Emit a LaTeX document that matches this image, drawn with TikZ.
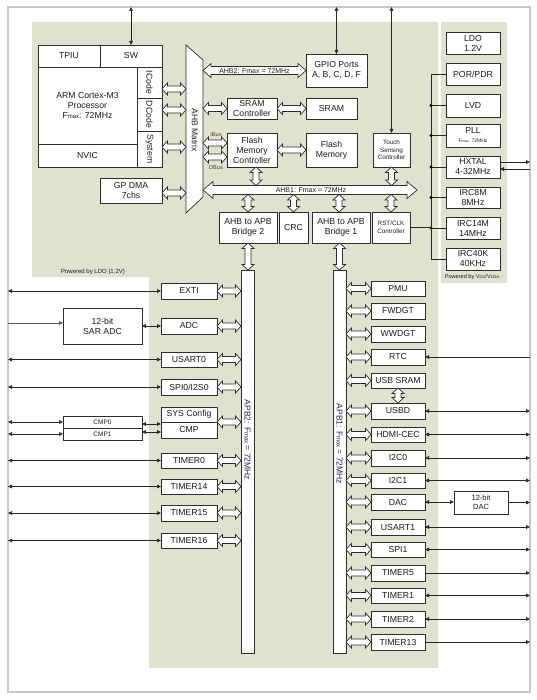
\documentclass[tikz,border=0pt]{standalone}
\usepackage{fontspec}
\setmainfont{Liberation Sans}
\usetikzlibrary{arrows.meta,calc}
\definecolor{bgg}{RGB}{222,226,206}
\definecolor{txt}{RGB}{30,28,24}
\definecolor{apbtxt}{RGB}{30,40,80}
\definecolor{bord}{RGB}{45,45,45}
\definecolor{busc}{RGB}{90,60,30}
\newcommand\fs[2]{\fontsize{#1}{#2}\selectfont}
\newcommand\bx[7][]{\node[box,minimum width={#5-#3},minimum height={#6-#4},#1] (#2) at ({(#3+#5)/2},{(#4+#6)/2}) {#7};}
\newcommand\HAg[6]{\draw[blk] let \p1=(#4), \p2=(#5), \p3=(#6) in
 (\x1,\y3) -- (\x1+#3pt,\y3+#2pt) -- (\x1+#3pt,\y3+#1pt) -- (\x2-#3pt,\y3+#1pt) -- (\x2-#3pt,\y3+#2pt) -- (\x2,\y3) -- (\x2-#3pt,\y3-#2pt) -- (\x2-#3pt,\y3-#1pt) -- (\x1+#3pt,\y3-#1pt) -- (\x1+#3pt,\y3-#2pt) -- cycle;}
\newcommand\HA[3]{\HAg{3}{6}{5.5}{#1}{#2}{#3}}
\newcommand\VAg[6]{\draw[blk] let \p1=(#4), \p2=(#5), \p3=(#6) in
 (\x1,\y2) -- (\x1+#2pt,\y2-#3pt) -- (\x1+#1pt,\y2-#3pt) -- (\x1+#1pt,\y3+#3pt) -- (\x1+#2pt,\y3+#3pt) -- (\x1,\y3) -- (\x1-#2pt,\y3+#3pt) -- (\x1-#1pt,\y3+#3pt) -- (\x1-#1pt,\y2-#3pt) -- (\x1-#2pt,\y2-#3pt) -- cycle;}
\newcommand\VA[3]{\VAg{3}{6}{5.5}{#1}{#2}{#3}}
\tikzset{
 box/.style={draw=bord,fill=white,line width=0.8pt,inner sep=0pt,outer sep=0pt,align=center,text=txt,font=\fs{8.7}{10}},
 blk/.style={draw=bord,fill=white,line width=0.7pt,line join=miter},
 sig/.style={draw=black!85,line width=0.7pt},
 >={Triangle[length=4pt,width=3.6pt]},
 small/.style={font=\fs{6.3}{7.6}},
 lbl/.style={text=txt,inner sep=0pt}
}
\begin{document}
\begin{tikzpicture}[x=1pt,y=-1pt]
\useasboundingbox (0,0) rectangle (537,700);
% frame and backgrounds
\node[draw=black!22,line width=1.2pt,minimum width=522,minimum height=685,inner sep=0pt,outer sep=0pt] (frame) at (269,349.5) {};
\fill[bgg] (32,22) -- (438,22) -- (438,668) -- (149,668) -- (149,277) -- (32,277) -- cycle;
\fill[bgg] (441,22) rectangle (507,283);
\node[lbl,font=\fs{6}{7}] (ldolbl) at (93,272) {Powered by LDO (1.2V)};
\node[lbl,font=\fs{5.6}{7}] (vddlbl) at (472,277) {Powered by V{\fs{4}{4}DD}/V{\fs{4}{4}DDA}};
% CPU block
\bx{tpiu}{38}{45}{100}{67}{TPIU}
\bx{sw}{100}{45}{162}{67}{SW}
\bx{cpu}{38}{67}{137}{144}{ARM Cortex-M3\\Processor\\F{\fs{6}{6}max}: 72MHz}
\bx{nvic}{38}{144}{137}{167}{NVIC}
\bx[label={[rotate=-90,lbl,font=\fs{8.7}{10}]center:ICode}]{icode}{137}{67}{162}{98}{}
\bx[label={[rotate=-90,lbl,font=\fs{8.7}{10}]center:DCode}]{dcode}{137}{98}{162}{131}{}
\bx[label={[rotate=-90,lbl,font=\fs{8.7}{10}]center:System}]{system}{137}{131}{162}{167}{}
\bx{gpdma}{100}{178}{162}{203}{GP DMA\\7chs}
% AHB matrix
\draw[blk] (186,45) -- (203,60) -- (203,197) -- (186,213) -- cycle;
\node[lbl,rotate=-90,font=\fs{8.5}{10}] (ahbm) at (195,130) {AHB Matrix};
\coordinate (mxL) at (186,0);
\coordinate (mxR) at (203,0);
% AHB side blocks
\bx{gpio}{306}{54}{367}{87}{GPIO Ports\\A, B, C, D, F}
\bx{sramc}{227}{98}{277}{119}{SRAM\\Controller}
\bx{sram}{306}{98}{357}{119}{SRAM}
\bx{flashc}{227}{133}{277}{167}{Flash\\Memory\\Controller}
\bx{flash}{306}{133}{357}{167}{Flash\\Memory}
\bx[small]{tsc}{373}{133}{410}{167}{Touch\\Sensing\\Controller}
\bx{br2}{219}{212}{277}{243}{AHB to APB\\Bridge 2}
\bx{crc}{279}{212}{308}{243}{CRC}
\bx{br1}{312}{212}{370}{243}{AHB to APB\\Bridge 1}
\bx[small]{rst}{372}{212}{410}{243}{RST/CLK\\Controller}
% power blocks
\bx{ldo}{446}{32}{500}{54}{LDO\\1.2V}
\bx{por}{446}{63}{500}{85}{POR/PDR}
\bx{lvd}{446}{94}{500}{117}{LVD}
\bx{pll}{446}{124}{500}{147}{PLL\\[-1pt]{\fs{5}{6}F{\fs{3.6}{4}max}: 72MHz}}
\bx{hxtal}{446}{156}{500}{178}{HXTAL\\4-32MHz}
\bx{irc8}{446}{187}{500}{208}{IRC8M\\8MHz}
\bx{irc14}{446}{217}{500}{239}{IRC14M\\14MHz}
\bx{irc40}{446}{248}{500}{270}{IRC40K\\40KHz}
% APB buses
\bx{apb2}{241}{270}{254}{653}{}
\bx{apb1}{333}{270}{346}{653}{}
\node[rotate=-90,inner sep=0pt,text=apbtxt,font=\fs{8.5}{10}] (apb2lbl) at (247.5,440) {APB2: F{\fs{6}{6}max} = 72MHz};
\node[rotate=-90,inner sep=0pt,text=apbtxt,font=\fs{8.5}{10}] (apb1lbl) at (339.5,444) {APB1: F{\fs{6}{6}max} = 72MHz};
% left peripherals
\bx{exti}{161}{283}{217}{299}{EXTI}
\bx{adc}{161}{318}{217}{334}{ADC}
\bx{usart0}{161}{352}{217}{367}{USART0}
\bx{spi0}{161}{379}{217}{395}{SPI0/I2S0}
\bx{syscfg}{161}{407}{217}{422}{SYS Config}
\bx{cmp}{161}{422}{217}{438}{CMP}
\bx{timer0}{161}{453}{217}{468}{TIMER0}
\bx{timer14}{161}{479}{217}{494}{TIMER14}
\bx{timer15}{161}{505}{217}{521}{TIMER15}
\bx{timer16}{161}{533}{217}{548}{TIMER16}
\bx{sar}{63}{308}{142}{344}{12-bit\\SAR ADC}
\bx[font=\fs{6.5}{7}]{cmp0}{63}{416}{142}{428}{CMP0}
\bx[font=\fs{6.5}{7}]{cmp1}{63}{428}{142}{440}{CMP1}
% right peripherals
\bx{pmu}{371}{281}{425}{296}{PMU}
\bx{fwdgt}{371}{303}{425}{319}{FWDGT}
\bx{wwdgt}{371}{326}{425}{342}{WWDGT}
\bx{rtc}{371}{349}{425}{365}{RTC}
\bx{usbsram}{371}{373}{425}{388}{USB SRAM}
\bx{usbd}{371}{403}{425}{419}{USBD}
\bx{hdmi}{371}{427}{425}{442}{HDMI-CEC}
\bx{i2c0}{371}{450}{425}{466}{I2C0}
\bx{i2c1}{371}{473}{425}{488}{I2C1}
\bx{dac}{371}{494}{425}{510}{DAC}
\bx{usart1}{371}{519}{425}{535}{USART1}
\bx{spi1}{371}{542}{425}{557}{SPI1}
\bx{timer5}{371}{565}{425}{581}{TIMER5}
\bx{timer1}{371}{588}{425}{603}{TIMER1}
\bx{timer2}{371}{611}{425}{627}{TIMER2}
\bx{timer13}{371}{634}{425}{650}{TIMER13}
\bx[font=\fs{7.5}{9}]{dac12}{454}{491}{508}{514}{12-bit\\DAC}
% block arrows: CPU to matrix
\HA{icode.east}{mxL}{[yshift=-6.5pt]icode.east}
\HA{dcode.east}{mxL}{[yshift=4.5pt]dcode.east}
\HA{system.east}{mxL}{[yshift=2pt]system.east}
\HA{gpdma.east}{mxL}{[yshift=-2.5pt]gpdma.east}
% matrix to right
\HAg{4}{7}{8}{mxR}{gpio.west}{gpio.west}
\node[lbl,font=\fs{7}{8}] (ahb2lbl) at (254.5,71) {AHB2: Fmax = 72MHz};
\HA{mxR}{sramc.west}{sramc.west}
\HA{mxR}{flashc.west}{[yshift=7pt]flashc.west}
\HA{mxR}{flashc.west}{[yshift=-7pt]flashc.west}
\node[inner sep=0pt,text=busc,font=\fs{5.6}{6}] (ibus) at (216,135) {IBus};
\node[inner sep=0pt,text=busc,font=\fs{5.6}{6}] (dbus) at (216,167.5) {DBus};
\HA{sramc.east}{sram.west}{sramc.east}
\HA{flashc.east}{flash.west}{flashc.east}
\coordinate (ahb1R) at (417,190);
\coordinate (ahb1T) at (0,185.5);
\coordinate (ahb1B) at (0,194.5);
\HAg{4.5}{8.5}{10}{mxR}{ahb1R}{ahb1R}
\node[lbl,font=\fs{7}{8}] (ahb1lbl) at (311,190) {AHB1: Fmax = 72MHz};
\VA{[xshift=4pt]flashc.south}{flashc.south}{ahb1T}
\VA{tsc.south}{tsc.south}{ahb1T}
\VA{br2.north}{ahb1B}{br2.north}
\VA{crc.north}{ahb1B}{crc.north}
\VA{[xshift=-2pt]br1.north}{ahb1B}{br1.north}
\VA{rst.north}{ahb1B}{rst.north}
\VA{br2.south}{br2.south}{apb2.north}
\VA{apb1.north}{br1.south}{apb1.north}
\VA{usbsram.south}{usbsram.south}{usbd.north}
% APB2 peripherals
\foreach \q in {exti,adc,usart0,spi0,timer0,timer14,timer15,timer16}{\HA{\q.east}{apb2.west}{\q.east}}
\HA{cmp.east}{apb2.west}{cmp.north east}
% APB1 peripherals
\foreach \q in {pmu,fwdgt,wwdgt,rtc,usbsram,usbd,hdmi,i2c0,i2c1,dac,usart1,spi1,timer5,timer1,timer2,timer13}{\HA{apb1.east}{\q.west}{\q.west}}
% top signals
\draw[sig,<->] (sw.north |- frame.north) -- (sw.north);
\draw[sig,<->] (gpio.north |- frame.north) -- (gpio.north);
\draw[sig,<->] (tsc.north |- frame.north) -- (tsc.north);
% left signals
\foreach \q in {exti,usart0,spi0,timer0,timer14,timer15,timer16,cmp0,cmp1}{\draw[sig,<->] (frame.west |- \q.west) -- (\q.west);}
\draw[sig,draw=black!65,->] ($(frame.west |- sar.west)+(0,-3)$) -- ($(sar.west)+(0,-3)$);
\draw[sig,<->] (sar.east |- adc.west) -- (adc.west);
\draw[sig,<->] ($(cmp0.east)+(0,2)$) -- ($(cmp0.east -| cmp.west)+(0,2)$);
\draw[sig,<->] ($(cmp1.east)+(0,-2)$) -- ($(cmp1.east -| cmp.west)+(0,-2)$);
% right signals
\draw[sig,<-] (rtc.east) -- (rtc.east -| frame.east);
\foreach \q in {usbd,hdmi,i2c0,i2c1,usart1,spi1,timer1,timer2}{\draw[sig,<->] (\q.east) -- (\q.east -| frame.east);}
\foreach \q in {timer5,timer13}{\draw[sig,->] (\q.east) -- (\q.east -| frame.east);}
\draw[sig,<->] (dac.east) -- (dac.east -| dac12.west);
\draw[sig,->] (dac12.east) -- (dac12.east -| frame.east);
\draw[sig,->] ($(hxtal.east)+(0,-5)$) -- ($(hxtal.east -| frame.east)+(0,-5)$);
\draw[sig,<-] ($(hxtal.east)+(0,2)$) -- ($(hxtal.east -| frame.east)+(0,2)$);
% clock/reset tree
\coordinate (tree) at (431,0);
\draw[sig] (por.west) -- (por.west -| tree) -- (irc40.west -| tree) -- (irc40.west);
\foreach \q in {lvd,pll,hxtal,irc8,irc14}{\draw[sig] (\q.west -| tree) -- (\q.west); \fill (\q.west -| tree) circle (1.6pt);}
\draw[sig] (rst.east) -- (rst.east -| tree);
\end{tikzpicture}
\end{document}
